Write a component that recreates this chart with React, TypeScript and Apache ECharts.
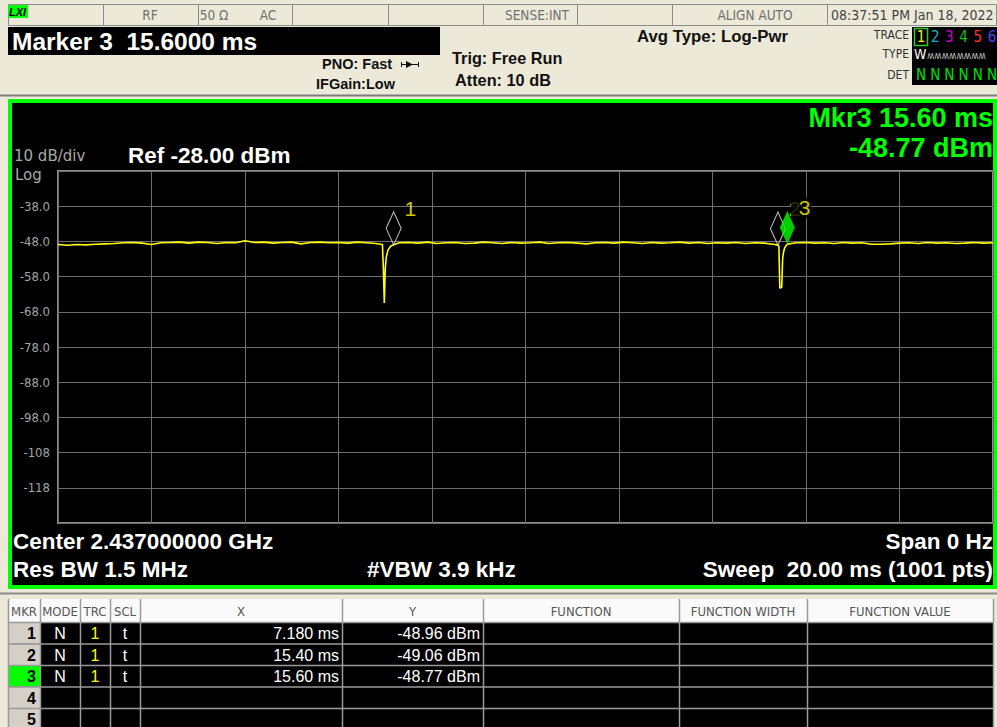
import React, { useEffect, useRef } from "react";
import * as echarts from "echarts";

// ---------------- data ----------------
const sweepMs = 20;
const refLevelDbm = -28;
const bottomLevelDbm = -128;
const dbPerDiv = 10;

const traceTimeMs = [
  0.0, 0.2, 0.4, 0.6, 0.8, 1.0, 1.2, 1.4, 1.6, 1.8, 2.0, 2.2, 2.4, 2.6, 2.8, 3.0, 3.2, 3.4, 3.6, 3.8,
  4.0, 4.2, 4.4, 4.6, 4.8, 5.0, 5.2, 5.4, 5.6, 5.8, 6.0, 6.2, 6.4, 6.6, 6.8, 6.9, 6.94, 6.96, 6.98, 7.0,
  7.02, 7.06, 7.12, 7.18, 7.3, 7.5, 7.7, 7.9, 8.1, 8.3, 8.5, 8.7, 8.9, 9.1, 9.3, 9.5, 9.7, 9.9, 10.1, 10.3,
  10.5, 10.7, 10.9, 11.1, 11.3, 11.5, 11.7, 11.9, 12.1, 12.3, 12.5, 12.7, 12.9, 13.1, 13.3, 13.5, 13.7, 13.9, 14.1, 14.3,
  14.5, 14.7, 14.9, 15.1, 15.3, 15.4, 15.42, 15.44, 15.46, 15.48, 15.5, 15.52, 15.54, 15.57, 15.6, 15.8, 16.0, 16.2, 16.4, 16.6,
  16.8, 17.0, 17.2, 17.4, 17.6, 17.8, 18.0, 18.2, 18.4, 18.6, 18.8, 19.0, 19.2, 19.4, 19.6, 19.8, 20.0,
];
const traceLevelDbm = [
  -48.9, -49.1, -48.9, -49.0, -48.8, -48.7, -48.6, -48.4, -48.3, -48.5, -48.9, -48.4, -48.3, -48.2, -48.5, -48.2, -48.3, -48.6, -48.3, -48.4,
  -47.8, -48.3, -48.2, -48.5, -48.3, -48.2, -48.7, -48.3, -48.2, -48.4, -48.3, -48.5, -48.2, -48.4, -48.6, -48.8, -48.9, -55.8, -65.5, -55.8,
  -52.6, -50.4, -49.3, -48.96, -48.4, -48.3, -48.5, -48.2, -48.6, -48.4, -48.3, -48.6, -48.5, -48.2, -48.4, -48.6, -48.3, -48.5, -48.4, -48.2,
  -48.6, -48.4, -48.3, -48.5, -48.7, -48.4, -48.3, -48.5, -48.2, -48.4, -48.6, -48.3, -48.5, -48.4, -48.2, -48.5, -48.3, -48.6, -48.4, -48.5,
  -48.3, -48.6, -48.4, -48.5, -48.8, -49.06, -49.4, -61.2, -61.2, -61.0, -53.0, -51.0, -50.0, -49.3, -48.77, -48.4, -48.3, -48.5, -48.4, -48.6,
  -48.3, -48.5, -48.4, -48.8, -48.8, -48.7, -48.5, -48.4, -48.6, -48.3, -48.5, -48.4, -48.6, -48.5, -48.3, -48.5, -48.4,
];

const markerIds = [1, 2, 3];
const markerTimeMs = [7.18, 15.4, 15.6];
const markerLevelDbm = [-48.96, -49.06, -48.77];
const markerModes = ["N", "N", "N"];
const markerTraces = ["1", "1", "1"];
const markerScales = ["t", "t", "t"];
const activeMarker = 3;
const tableRowIds = ["1", "2", "3", "4", "5"];

const statusCells = ["RF", "50 Ω", "AC", "SENSE:INT", "ALIGN AUTO"];
const traceNumbers = ["1", "2", "3", "4", "5", "6"];
const traceColors = ["#f0f000", "#00b8d8", "#d000d0", "#10c010", "#ff3030", "#5a3cff"];

// ---------------- helpers ----------------
const SANS = '"Liberation Sans", Arial, sans-serif';
const WIDE = '"DejaVu Sans", "Liberation Sans", sans-serif';
const NARROW = '"Liberation Sans Narrow", "DejaVu Sans Condensed", "Liberation Sans", sans-serif';

function txt(
  text: string,
  x: number,
  y: number,
  font: string,
  fill: string,
  align: string = "left",
  z = 20
) {
  return {
    type: "text",
    x,
    y,
    z,
    silent: true,
    style: {
      text,
      font,
      fill,
      align,
      textAlign: align,
      verticalAlign: "middle",
      textVerticalAlign: "middle",
    },
  };
}
function rect(x: number, y: number, w: number, h: number, fill: string, stroke?: string, lw = 1, z = 1) {
  return {
    type: "rect",
    z,
    silent: true,
    shape: { x, y, width: w, height: h },
    style: { fill, stroke: stroke || "none", lineWidth: lw },
  };
}
function line(x1: number, y1: number, x2: number, y2: number, stroke: string, lw = 1, z = 2) {
  return {
    type: "line",
    z,
    silent: true,
    shape: { x1, y1, x2, y2 },
    style: { stroke, lineWidth: lw },
  };
}

function buildGraphics() {
  const g: any[] = [];
  // top status bar
  g.push(rect(8.5, 4.5, 988, 21, "#ece9d8", "#8c8c8c", 1, 1));
  [103, 198, 292, 388, 483, 577, 672, 827].forEach((x) => g.push(line(x + 0.5, 5, x + 0.5, 25, "#8c8c8c", 1, 2)));
  g.push(rect(8, 5, 20, 13, "#00ff00", undefined, 1, 3));
  g.push(txt("LXI", 9, 11.5, `italic bold 11px ${SANS}`, "#000", "left"));
  const cellX = [150, 214, 268, 537, 755];
  statusCells.forEach((s, i) => g.push(txt(s, cellX[i], 15, `13.5px ${NARROW}`, "#707070", "center")));
  g.push(txt("08:37:51 PM Jan 18, 2022", 831, 15, `14px ${NARROW}`, "#444", "left"));

  // marker readout box
  g.push(rect(8, 27, 432, 28, "#000", undefined, 1, 3));
  g.push(
    txt(
      `Marker ${activeMarker}  ${markerTimeMs[activeMarker - 1].toFixed(4)} ms`,
      12,
      41,
      `bold 24.5px ${SANS}`,
      "#fff"
    )
  );
  g.push(txt("PNO: Fast", 322, 64, `bold 14.5px ${SANS}`, "#111"));
  g.push(line(401, 64.5, 419, 64.5, "#111", 1, 5));
  g.push(line(401.5, 62, 401.5, 67, "#111", 1, 5));
  g.push(line(418.5, 62, 418.5, 67, "#111", 1, 5));
  g.push({
    type: "polygon",
    z: 5,
    silent: true,
    shape: { points: [[406, 61], [406, 68], [413, 64.5]] },
    style: { fill: "#111" },
  });
  g.push(txt("IFGain:Low", 316, 84, `bold 14.5px ${SANS}`, "#111"));
  g.push(txt("Trig: Free Run", 452, 58, `bold 16.3px ${SANS}`, "#111"));
  g.push(txt("Atten: 10 dB", 455, 80, `bold 16.3px ${SANS}`, "#111"));
  g.push(txt("Avg Type: Log-Pwr", 637, 36, `bold 16.8px ${SANS}`, "#111"));
  g.push(txt("TRACE", 909, 35, `12px ${NARROW}`, "#333", "right"));
  g.push(txt("TYPE", 909, 54, `12px ${NARROW}`, "#333", "right"));
  g.push(txt("DET", 909, 75, `12px ${NARROW}`, "#333", "right"));
  g.push(rect(912, 27, 85, 58, "#000", undefined, 1, 3));
  g.push(rect(914.5, 28.5, 13, 17, "none", "#2ec82e", 1.5, 4));
  traceNumbers.forEach((n, i) => {
    const x = 921 + i * 14.2;
    g.push(txt(n, x, 37, `15px ${NARROW}`, traceColors[i], "center"));
    g.push(txt("N", x, 75, `15px ${NARROW}`, "#00e000", "center"));
  });
  g.push(txt("W", 914, 54, `14px ${NARROW}`, "#fff", "left"));
  g.push(txt("\u028D\u028D\u028D\u028D\u028D\u028D\u028D\u028D", 927, 55, `10px ${NARROW}`, "#bbb", "left"));

  // separator above plot
  g.push(line(0, 95.5, 997, 95.5, "#7c7c7c", 2, 2));

  // plot frame
  g.push(rect(10, 101, 985, 486, "#000", "#00ff00", 4, 0));

  const a = activeMarker - 1;
  g.push(txt(`Mkr${markerIds[a]} ${markerTimeMs[a].toFixed(2)} ms`, 993, 118, `bold 27px ${SANS}`, "#00ff00", "right"));
  g.push(txt(`${markerLevelDbm[a].toFixed(2)} dBm`, 993, 148, `bold 27px ${SANS}`, "#00ff00", "right"));
  g.push(txt(`${dbPerDiv} dB/div`, 14, 156, `15px ${WIDE}`, "#a8a8a8"));
  g.push(txt("Log", 15, 174.5, `15px ${WIDE}`, "#a8a8a8"));
  g.push(txt(`Ref ${refLevelDbm.toFixed(2)} dBm`, 128, 155, `bold 22.5px ${SANS}`, "#fff"));

  const bf = `bold 22.5px ${SANS}`;
  g.push(txt("Center 2.437000000 GHz", 13, 541, bf, "#fff"));
  g.push(txt("Res BW 1.5 MHz", 13, 569, bf, "#fff"));
  g.push(txt("#VBW 3.9 kHz", 367, 569, bf, "#fff"));
  g.push(txt("Span 0 Hz", 993, 541, bf, "#fff", "right"));
  g.push(txt(`Sweep  ${sweepMs.toFixed(2)} ms (1001 pts)`, 993, 569, bf, "#fff", "right"));

  // lower separator
  g.push(line(0, 593.5, 997, 593.5, "#8a8a8a", 2, 2));

  // marker table
  const cols = [8, 40, 80, 110, 140, 342, 483, 679, 807, 993];
  const headers = ["MKR", "MODE", "TRC", "SCL", "X", "Y", "FUNCTION", "FUNCTION WIDTH", "FUNCTION VALUE"];
  const headTop = 599;
  const headH = 23;
  const rowH = 21.5;
  g.push(rect(cols[0], headTop, cols[cols.length - 1] - cols[0], headH, "#fafafa", undefined, 1, 1));
  headers.forEach((h, i) =>
    g.push(txt(h, (cols[i] + cols[i + 1]) / 2, headTop + 12, `13px ${NARROW}`, "#555", "center"))
  );
  const bodyTop = headTop + headH;
  g.push(rect(cols[0], bodyTop, cols[cols.length - 1] - cols[0], 727 - bodyTop, "#000", undefined, 1, 1));
  tableRowIds.forEach((id, r) => {
    const y = bodyTop + r * rowH;
    const isActive = Number(id) === activeMarker;
    g.push(rect(cols[0], y, cols[1] - cols[0], rowH, isActive ? "#00ff00" : "#d4d0c8", undefined, 1, 2));
    const cy = y + rowH / 2 + 1;
    g.push(txt(id, cols[1] - 4, cy, `bold 16px ${SANS}`, "#000", "right"));
    if (r < markerIds.length) {
      g.push(txt(markerModes[r], 60, cy, `16px ${SANS}`, "#fff", "center"));
      g.push(txt(markerTraces[r], 95, cy, `16px ${SANS}`, "#ffff00", "center"));
      g.push(txt(markerScales[r], 125, cy, `16px ${SANS}`, "#fff", "center"));
      const xs = markerTimeMs[r] < 10 ? markerTimeMs[r].toFixed(3) : markerTimeMs[r].toFixed(2);
      g.push(txt(`${xs} ms`, cols[5] - 3, cy, `16px ${SANS}`, "#fff", "right"));
      g.push(txt(`${markerLevelDbm[r].toFixed(2)} dBm`, cols[6] - 3, cy, `16px ${SANS}`, "#fff", "right"));
    }
    g.push(line(cols[0], y + 0.5, cols[cols.length - 1], y + 0.5, "#9a9a9a", 1.5, 4));
  });
  cols.forEach((x) => g.push(line(x + 0.5, headTop, x + 0.5, 727, "#9a9a9a", 1.5, 4)));
  return g;
}

export default function App() {
  const ref = useRef<HTMLDivElement>(null);
  useEffect(() => {
    if (!ref.current) return;
    const chart = echarts.init(ref.current, undefined, { renderer: "svg" });
    const traceData = traceTimeMs.map((t, i) => [t, traceLevelDbm[i]]);
    const markerData = markerIds.map((id, i) => ({
      value: [markerTimeMs[i], markerLevelDbm[i]],
      name: String(id),
    }));
    const option: any = {
      animation: false,
      backgroundColor: "#ece9d8",
      grid: {
        left: 58,
        top: 171,
        width: 935,
        height: 352,
        show: true,
        borderColor: "#8a8a8a",
        borderWidth: 2,
        backgroundColor: "transparent",
        z: 1,
      },
      xAxis: {
        type: "value",
        min: 0,
        max: sweepMs,
        interval: sweepMs / 10,
        axisLine: { show: false },
        axisTick: { show: false },
        axisLabel: { show: false },
        splitLine: { show: true, lineStyle: { color: "#6e6e6e", width: 1 } },
        z: 1,
      },
      yAxis: {
        type: "value",
        min: bottomLevelDbm,
        max: refLevelDbm,
        interval: dbPerDiv,
        axisLine: { show: false },
        axisTick: { show: false },
        splitLine: { show: true, lineStyle: { color: "#6e6e6e", width: 1 } },
        axisLabel: {
          color: "#a4a4a4",
          fontSize: 13,
          fontFamily: NARROW,
          margin: 8,
          padding: [0, 0, 5, 0],
          formatter: (v: number) => {
            if (v === refLevelDbm || v === bottomLevelDbm) return "";
            return Math.abs(v) >= 100 ? String(v) : v.toFixed(1);
          },
        },
        z: 1,
      },
      graphic: { elements: buildGraphics() },
      series: [
        {
          type: "line",
          data: traceData,
          showSymbol: false,
          lineStyle: { color: "#ffff00", width: 1.6 },
          itemStyle: { color: "#ffff00" },
          z: 5,
          silent: true,
        },
        {
          type: "scatter",
          data: markerData.slice(0, 2),
          symbol: "diamond",
          symbolSize: [15, 33],
          symbolOffset: [0, "-50%"],
          itemStyle: { color: "rgba(0,0,0,0)", borderColor: "#e8e8e8", borderWidth: 1.2 },
          label: {
            show: true,
            position: "right",
            distance: 3,
            offset: [0, -20],
            formatter: (p: any) => p.name,
            color: "#ffff00",
            fontSize: 21,
            fontFamily: SANS,
          },
          z: 6,
          silent: true,
        },
        {
          type: "scatter",
          data: markerData.slice(2),
          symbol: "diamond",
          symbolSize: [15, 33],
          symbolOffset: [0, "-50%"],
          itemStyle: { color: "#00ff00" },
          label: {
            show: true,
            position: "right",
            distance: 2,
            offset: [-6, -20],
            formatter: (p: any) => p.name,
            color: "#ffff00",
            fontSize: 21,
            fontFamily: SANS,
            backgroundColor: "#000",
            padding: [0, 1, 0, 8],
          },
          z: 7,
          silent: true,
        },
      ],
    };
    chart.setOption(option);
    return () => chart.dispose();
  }, []);
  return (
    <div
      ref={ref}
      style={{ position: "fixed", left: 0, top: 0, width: 997, height: 727 }}
    />
  );
}
